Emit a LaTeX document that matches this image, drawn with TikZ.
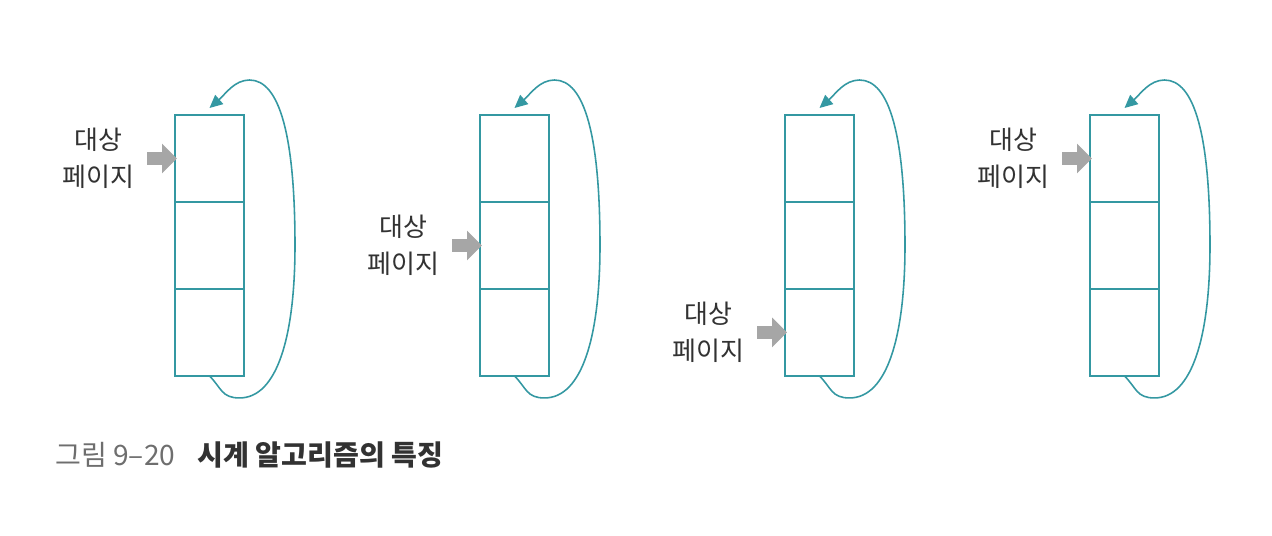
\documentclass[tikz,border=0pt]{standalone}
\usepackage{fontspec}
\setmainfont{Noto Sans CJK KR}
\usetikzlibrary{positioning,arrows.meta,calc}
\definecolor{clockteal}{RGB}{52,152,162}
\definecolor{pointergray}{RGB}{166,166,166}
\definecolor{textdark}{RGB}{50,50,50}
\definecolor{captiongray}{RGB}{110,110,110}
\def\cellwidth{1.38cm}
\def\cellheight{1.74cm}
\def\colsep{305}

\begin{document}
\begin{tikzpicture}[x=0.02cm, y=-0.02cm,
                    cell/.style={draw=clockteal, line width=0.9pt, minimum width=\cellwidth,
                                 minimum height=\cellheight, inner sep=0, outer sep=0},
                    hand/.style={draw=clockteal, line width=0.9pt, -{Triangle[length=0.26cm,width=0.24cm]}},
                    pointer/.style={draw=pointergray, line width=0.26cm, -{Triangle[length=0.3cm,width=0.58cm]}},
                    target/.style={align=center, inner sep=0, text=textdark,
                                   font=\fontsize{14.8}{21}\selectfont}]
    \useasboundingbox (0,0) rectangle (1272,536);
    \foreach \col/\tgt in {1/1,2/2,3/3,4/1}{%
      \node[cell] (c\col-1) at ({209.5+\colsep*(\col-1)},158.5) {};
      \node[cell, below=0pt of c\col-1] (c\col-2) {};
      \node[cell, below=0pt of c\col-2] (c\col-3) {};
      \coordinate (b\col) at ($(c\col-3.south)+(30,22)$);
      \coordinate (h\col) at ($(c\col-2.east)+(51,0)$);
      \coordinate (u\col) at ($(c\col-1.north)+(40,-35)$);
      \coordinate (t\col) at ($(c\col-1.north)+(0,-7)$);
      \draw[hand] (c\col-3.south) .. controls +(12,12) and +(-18,0) .. (b\col)
                  .. controls +(38,0) and +(0,90) .. (h\col)
                  .. controls +(0,-110) and +(30,0) .. (u\col)
                  .. controls +(-15,0) and +(16,-14) .. (t\col);
      \node[target, left=0.8cm of c\col-\tgt.west] (lbl\col) {대상\\페이지};
      \draw[pointer] ([xshift=0.24cm]lbl\col.east) -- ([xshift=0.04cm]c\col-\tgt.west);}
    %
    \node[anchor=base west, inner sep=0, font=\fontsize{16}{19}\selectfont] (caption) at (55,466)
      {\textcolor{captiongray}{그림 9–20}\hspace{0.45cm}\textcolor{textdark}{\bfseries 시계 알고리즘의 특징}};
\end{tikzpicture}
\end{document}
